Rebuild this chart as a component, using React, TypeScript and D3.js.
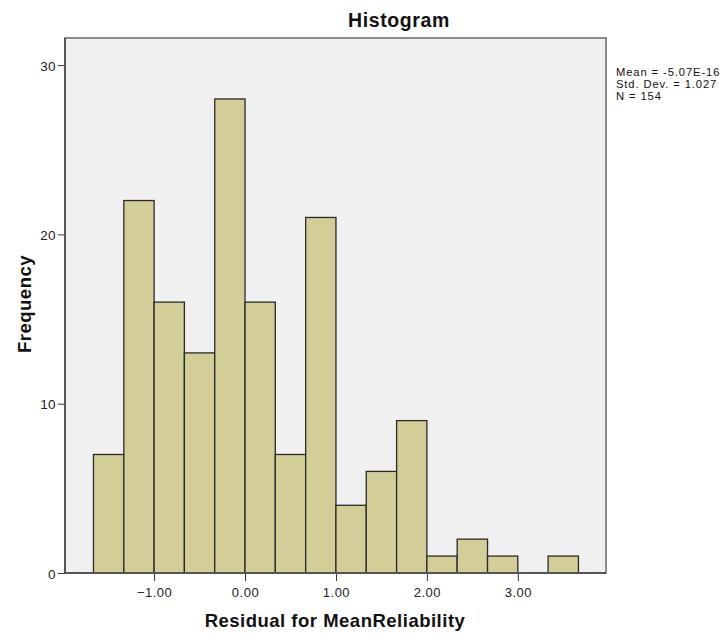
import React, { useEffect, useRef } from "react";
import * as d3 from "d3";

// bin edges (residual units) and counts per bin
const binEdges = [-1.667, -1.333, -1.0, -0.667, -0.333, 0.0, 0.333, 0.667, 1.0, 1.333, 1.667, 2.0, 2.333, 2.667, 3.0, 3.333, 3.667];
const counts = [7, 22, 16, 13, 28, 16, 7, 21, 4, 6, 9, 1, 2, 1, 0, 1];
const xTicks = [-1, 0, 1, 2, 3];
const yTicks = [0, 10, 20, 30];
const statsLines = ["Mean = -5.07E-16", "Std. Dev. = 1.027", "N = 154"];

const W = 727;
const H = 635;
const left = 65;
const right = 606;
const top = 38;
const bottom = 573;
const font = "'Liberation Sans', Arial, sans-serif";

export default function App() {
  const svgRef = useRef<SVGSVGElement>(null);

  useEffect(() => {
    document.body.style.margin = "0";
    const svg = d3.select(svgRef.current);
    svg.selectAll("*").remove();

    const x = d3.scaleLinear().domain([-1.98, 3.97]).range([left, right]);
    const y = d3.scaleLinear().domain([0, 31.6]).range([bottom, top]);

    // plot background
    svg.append("rect")
      .attr("x", left).attr("y", top)
      .attr("width", right - left).attr("height", bottom - top)
      .attr("fill", "#f0f0f0")
      .attr("stroke", "#8c8c8c").attr("stroke-width", 2);

    const bins = counts.map((c, i) => ({ x0: binEdges[i], x1: binEdges[i + 1], c })).filter(b => b.c > 0);

    svg.selectAll(".bar")
      .data(bins)
      .join("rect")
      .attr("class", "bar")
      .attr("x", d => x(d.x0))
      .attr("y", d => y(d.c))
      .attr("width", d => x(d.x1) - x(d.x0))
      .attr("height", d => y(0) - y(d.c))
      .attr("fill", "#d3ce97")
      .attr("stroke", "#2a2a2a")
      .attr("stroke-width", 1.3);

    // axes
    const xAxis = d3.axisBottom(x).tickValues(xTicks).tickFormat(d => d3.format(".2f")(d as number)).tickSize(8).tickSizeOuter(0);
    const gx = svg.append("g").attr("transform", `translate(0,${bottom})`).call(xAxis);
    gx.select(".domain").remove();
    gx.selectAll("line").attr("stroke", "#333");
    gx.selectAll("text").attr("font-family", font).attr("font-size", 13).attr("letter-spacing", 0.5)
      .attr("fill", "#222").attr("y", 12).attr("dy", "0.95em");

    const yAxis = d3.axisLeft(y).tickValues(yTicks).tickSize(7).tickSizeOuter(0);
    const gy = svg.append("g").attr("transform", `translate(${left},0)`).call(yAxis);
    gy.select(".domain").remove();
    gy.selectAll("line").attr("stroke", "#333");
    gy.selectAll("text").attr("font-family", font).attr("font-size", 13.5).attr("letter-spacing", 0.4)
      .attr("fill", "#222").attr("x", -9).attr("dy", "0.38em");

    // axis lines
    svg.append("line").attr("x1", left).attr("x2", left).attr("y1", top).attr("y2", bottom)
      .attr("stroke", "#555").attr("stroke-width", 2);
    svg.append("line").attr("x1", left).attr("x2", right).attr("y1", bottom).attr("y2", bottom)
      .attr("stroke", "#555").attr("stroke-width", 2);

    // title and labels
    svg.append("text").attr("x", 399).attr("y", 27).attr("text-anchor", "middle")
      .attr("font-family", font).attr("font-weight", "bold").attr("font-size", 19.5).attr("letter-spacing", 0.6)
      .attr("fill", "#111")
      .text("Histogram");
    svg.append("text").attr("x", 335).attr("y", 627).attr("text-anchor", "middle")
      .attr("font-family", font).attr("font-weight", "bold").attr("font-size", 18.5).attr("letter-spacing", 0.5)
      .attr("fill", "#111")
      .text("Residual for MeanReliability");
    svg.append("text").attr("transform", "translate(31,304) rotate(-90)").attr("text-anchor", "middle")
      .attr("font-family", font).attr("font-weight", "bold").attr("font-size", 18.5).attr("letter-spacing", 0.5)
      .attr("fill", "#111")
      .text("Frequency");

    svg.selectAll(".stat")
      .data(statsLines)
      .join("text")
      .attr("class", "stat")
      .attr("x", 616)
      .attr("y", (d, i) => 75.5 + i * 12.3)
      .attr("font-family", font).attr("font-size", 11.2).attr("letter-spacing", 0.9).attr("fill", "#111")
      .text(d => d);
  }, []);

  return <svg ref={svgRef} width={W} height={H} style={{ display: "block", background: "#fff" }} />;
}
